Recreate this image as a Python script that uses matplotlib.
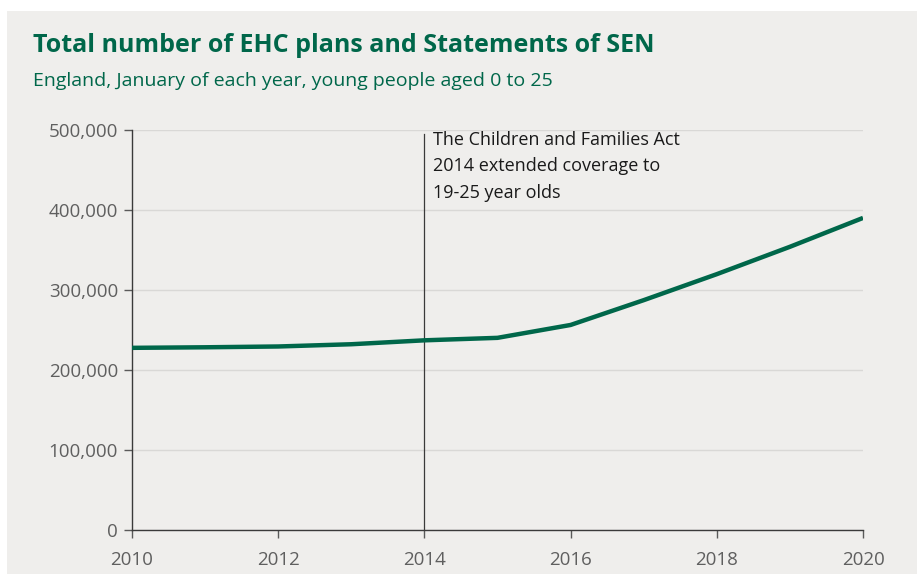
import matplotlib.pyplot as plt
from matplotlib.patches import Rectangle
from matplotlib.ticker import FuncFormatter

years = [2010, 2011, 2012, 2013, 2014, 2015, 2016, 2017, 2018, 2019, 2020]
plans = [227700, 228400, 229400, 232200, 237100, 240200, 256300, 287300, 319800, 354000, 390100]

title = 'Total number of EHC plans and Statements of SEN'
subtitle = 'England, January of each year, young people aged 0 to 25'
note = 'The Children and Families Act\n2014 extended coverage to\n19-25 year olds'

green = '#00674a'
bg = '#efeeec'

plt.rcParams['font.family'] = ['Open Sans', 'DejaVu Sans']

fig = plt.figure(figsize=(9.17, 5.74), dpi=100)
fig.patch.set_facecolor('white')
# grey panel behind the chart (small white margin top/left)
fig.patches.append(Rectangle((7 / 917, 0), 1, 1 - 11 / 574, transform=fig.transFigure,
                             facecolor=bg, edgecolor='none', zorder=-1))

ax = fig.add_axes([132 / 917, 44 / 574, 731 / 917, 400 / 574])
ax.set_facecolor(bg)

ax.plot(years, plans, color=green, linewidth=3.2, solid_capstyle='butt', zorder=3)

ax.set_xlim(2010, 2020)
ax.set_ylim(0, 500000)
ax.set_xticks([2010, 2012, 2014, 2016, 2018, 2020])
ax.set_yticks(range(0, 500001, 100000))
ax.yaxis.set_major_formatter(FuncFormatter(lambda v, p: f'{int(v):,}'))

ax.grid(axis='y', color='#d9d8d6', linewidth=1)
ax.set_axisbelow(True)
for s in ['top', 'right']:
    ax.spines[s].set_visible(False)
for s in ['left', 'bottom']:
    ax.spines[s].set_color('#3a3a3a')
    ax.spines[s].set_linewidth(1)
ax.tick_params(axis='both', length=6, width=1, color='#5a5a5a', labelcolor='#5f5f5f',
               labelsize=13.5)
ax.tick_params(axis='y', pad=4)
ax.tick_params(axis='x', pad=9)

# policy change marker
ax.plot([2014, 2014], [0, 495000], color='#3a3a3a', linewidth=0.9, zorder=2)
ax.text(2014.12, 499000, note, fontsize=13, color='#1a1a1a', va='top', ha='left',
        linespacing=1.62)

fig.text(33 / 917, 1 - 46 / 574, title, fontsize=18, fontweight='bold', color=green,
         va='center', ha='left')
fig.text(33 / 917, 1 - 81 / 574, subtitle, fontsize=14, color=green,
         va='center', ha='left')

fig.savefig('out.png', dpi=100, facecolor=fig.get_facecolor())
